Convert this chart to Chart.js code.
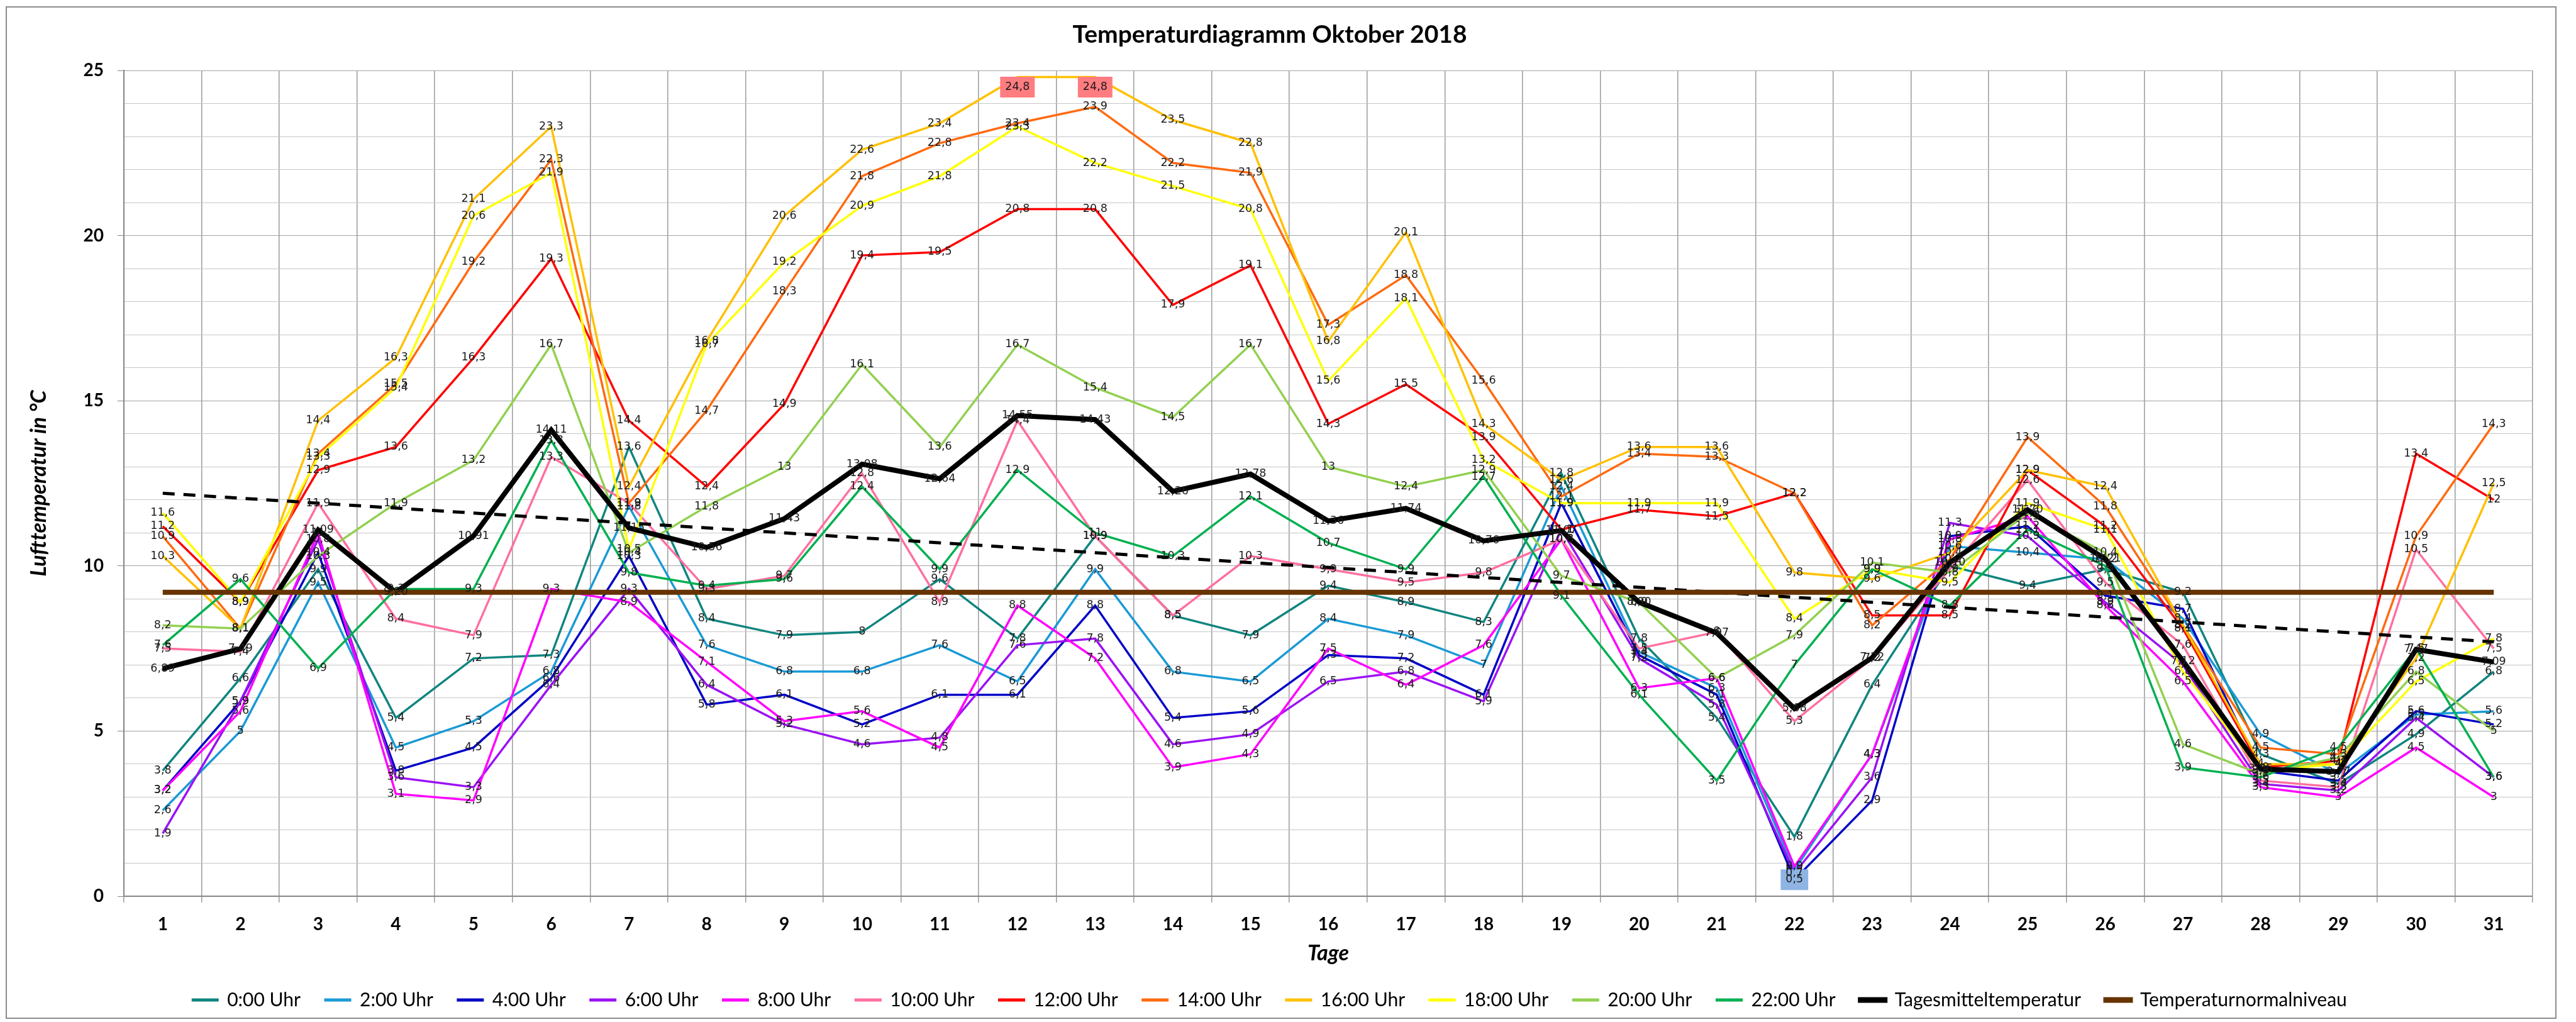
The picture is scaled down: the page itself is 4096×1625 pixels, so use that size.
<!DOCTYPE html>
<html>
<head>
<meta charset="utf-8">
<script src="https://cdn.jsdelivr.net/npm/chart.js@4.4.1/dist/chart.umd.min.js"></script>
<style>
  html, body { margin: 0; padding: 0; background: #fff; }
  #wrap { width: 4096px; height: 1625px; }
</style>
</head>
<body>
<div id="wrap"><canvas id="tempChart" width="4096" height="1625"></canvas></div>
<script>
// Tage im Oktober
const days = ['1','2','3','4','5','6','7','8','9','10','11','12','13','14','15','16',
              '17','18','19','20','21','22','23','24','25','26','27','28','29','30','31'];

// Messwerte (°C) je Uhrzeit
const temp00 = [3.8, 6.6, 9.9, 5.4, 7.2, 7.3, 13.6, 8.4, 7.9, 8.0, 9.6, 7.8, 10.9, 8.5, 7.9, 9.4, 8.9, 8.3, 12.8, 7.8, 5.4, 1.8, 6.4, 10.0, 9.4, 9.9, 9.2, 4.3, 3.4, 4.9, 6.8];
const temp02 = [2.6, 5.0, 9.5, 4.5, 5.3, 6.8, 11.8, 7.6, 6.8, 6.8, 7.6, 6.5, 9.9, 6.8, 6.5, 8.4, 7.9, 7.0, 12.4, 7.4, 6.3, 0.8, 4.3, 10.6, 10.4, 10.2, 8.4, 4.9, 3.7, 5.5, 5.6];
const temp04 = [3.2, 5.9, 10.4, 3.8, 4.5, 6.6, 10.3, 5.8, 6.1, 5.2, 6.1, 6.1, 8.8, 5.4, 5.6, 7.3, 7.2, 6.1, 11.9, 7.3, 6.1, 0.5, 2.9, 10.9, 11.2, 9.1, 8.7, 3.8, 3.5, 5.6, 5.2];
const temp06 = [1.9, 5.9, 10.8, 3.6, 3.3, 6.4, 9.3, 6.4, 5.2, 4.6, 4.8, 7.6, 7.8, 4.6, 4.9, 6.5, 6.8, 5.9, 11.1, 7.2, 5.8, 0.7, 3.6, 11.3, 10.9, 8.9, 7.0, 3.4, 3.2, 5.4, 3.6];
const temp08 = [3.2, 5.6, 11.0, 3.1, 2.9, 9.3, 8.9, 7.1, 5.3, 5.6, 4.5, 8.8, 7.2, 3.9, 4.3, 7.5, 6.4, 7.6, 10.8, 6.3, 6.6, 0.9, 4.3, 10.8, 11.5, 8.8, 6.5, 3.3, 3.0, 4.5, 3.0];
const temp10 = [7.5, 7.4, 11.9, 8.4, 7.9, 13.3, 11.9, 9.3, 9.7, 12.8, 8.9, 14.4, 10.9, 8.5, 10.3, 9.9, 9.5, 9.8, 10.8, 7.5, 8.0, 5.3, 7.2, 9.9, 12.6, 9.5, 7.6, 3.5, 3.3, 10.5, 7.5];
const temp12 = [11.2, 8.9, 12.9, 13.6, 16.3, 19.3, 14.4, 12.4, 14.9, 19.4, 19.5, 20.8, 20.8, 17.9, 19.1, 14.3, 15.5, 13.9, 11.1, 11.7, 11.5, 12.2, 8.5, 8.5, 12.9, 11.2, 8.1, 3.9, 4.1, 13.4, 12.0];
const temp14 = [10.9, 8.1, 13.4, 15.5, 19.2, 22.3, 11.9, 14.7, 18.3, 21.8, 22.8, 23.4, 23.9, 22.2, 21.9, 17.3, 18.8, 15.6, 12.1, 13.4, 13.3, 12.2, 8.2, 10.2, 13.9, 11.8, 8.2, 4.5, 4.3, 10.9, 14.3];
const temp16 = [10.3, 8.1, 14.4, 16.3, 21.1, 23.3, 12.4, 16.8, 20.6, 22.6, 23.4, 24.8, 24.8, 23.5, 22.8, 16.8, 20.1, 14.3, 12.6, 13.6, 13.6, 9.8, 9.6, 10.4, 12.9, 12.4, 8.2, 4.0, 4.0, 7.2, 12.5];
const temp18 = [11.6, 8.9, 13.3, 15.4, 20.6, 21.9, 10.5, 16.7, 19.2, 20.9, 21.8, 23.3, 22.2, 21.5, 20.8, 15.6, 18.1, 13.2, 11.9, 11.9, 11.9, 8.4, 9.9, 9.5, 11.9, 11.1, 6.8, 3.8, 4.0, 6.5, 7.8];
const temp20 = [8.2, 8.1, 10.3, 11.9, 13.2, 16.7, 10.4, 11.8, 13.0, 16.1, 13.6, 16.7, 15.4, 14.5, 16.7, 13.0, 12.4, 12.9, 9.7, 8.9, 6.6, 7.9, 10.1, 9.8, 11.6, 10.4, 4.6, 3.7, 4.2, 6.8, 5.0];
const temp22 = [7.6, 9.6, 6.9, 9.3, 9.3, 13.8, 9.8, 9.4, 9.6, 12.4, 9.9, 12.9, 11.0, 10.3, 12.1, 10.7, 9.9, 12.7, 9.1, 6.1, 3.5, 7.0, 9.9, 8.8, 11.1, 10.0, 3.9, 3.6, 4.5, 7.5, 3.6];

const dailyMean = [6.89, 7.49, 11.09, 9.20, 10.91, 14.11, 11.15, 10.56, 11.43, 13.08, 12.64, 14.55, 14.43, 12.26, 12.78, 11.36,
                   11.74, 10.76, 11.07, 8.90, 7.97, 5.68, 7.22, 10.10, 11.70, 10.21, 7.12, 3.85, 3.77, 7.47, 7.09];

const normalLevel = 9.2;
const trendStart = 12.2;
const trendEnd = 7.7;

const yTicks = [0, 5, 10, 15, 20, 25];

const hourNames = ['0:00 Uhr','2:00 Uhr','4:00 Uhr','6:00 Uhr','8:00 Uhr','10:00 Uhr',
                   '12:00 Uhr','14:00 Uhr','16:00 Uhr','18:00 Uhr','20:00 Uhr','22:00 Uhr'];
const hourSeries = [temp00, temp02, temp04, temp06, temp08, temp10, temp12, temp14, temp16, temp18, temp20, temp22];
const hourColors = ['#10857F','#1A9AD6','#0000C8','#9B12F4','#FF00FF','#FF6F9F',
                    '#FF0000','#FF6A10','#FFC000','#FFFF00','#92D050','#00B050'];

// Max/Min markiert wie im Original
const highlights = [
  {ds: 8, idx: 11, color: '#FF7C80'},
  {ds: 8, idx: 12, color: '#FF7C80'},
  {ds: 2, idx: 21, color: '#8EB4E3'}
];

const comma = v => String(v).replace('.', ',');
const comma2 = v => v.toFixed(2).replace('.', ',');

const datasets = hourSeries.map((s, i) => ({
  label: hourNames[i],
  data: s,
  borderColor: hourColors[i],
  backgroundColor: hourColors[i],
  borderWidth: 3.5,
  order: 100 - i,
  showValues: true,
  fmt: comma
}));

datasets.push({
  label: 'Tagesmitteltemperatur',
  data: dailyMean,
  borderColor: '#000',
  backgroundColor: '#000',
  borderWidth: 8,
  order: 3,
  showValues: true,
  fmt: comma2
});
datasets.push({
  label: 'Temperaturnormalniveau',
  data: [{x: days[0], y: normalLevel}, {x: days[days.length - 1], y: normalLevel}],
  borderColor: '#663300',
  backgroundColor: '#663300',
  borderWidth: 8,
  order: 1
});
datasets.push({
  label: 'trend',
  data: [{x: days[0], y: trendStart}, {x: days[days.length - 1], y: trendEnd}],
  borderColor: '#000',
  borderWidth: 5,
  borderDash: [19, 14],
  order: 5
});

const framePlugin = {
  id: 'frame',
  beforeDraw(chart) {
    const c = chart.ctx;
    c.save();
    c.fillStyle = '#fff';
    c.fillRect(0, 0, chart.width, chart.height);
    c.strokeStyle = '#8c8c8c';
    c.lineWidth = 2;
    c.strokeRect(10, 11, 4054, 1608);
    c.restore();
  }
};

const valueLabels = {
  id: 'valueLabels',
  afterDatasetsDraw(chart) {
    const c = chart.ctx;
    const area = chart.chartArea;
    c.save();
    c.font = '17.5px "DejaVu Sans"';
    c.textAlign = 'center';
    c.textBaseline = 'middle';
    chart.data.datasets.forEach((ds, di) => {
      if (!ds.showValues) return;
      const meta = chart.getDatasetMeta(di);
      meta.data.forEach((pt, i) => {
        const txt = ds.fmt(ds.data[i]);
        let y = pt.y;
        const hl = highlights.find(h => h.ds === di && h.idx === i);
        if (hl) {
          const w = c.measureText(txt).width + 16, h = 33;
          let top = y - h / 2;
          if (top < area.top + 10) top = area.top + 10;
          c.fillStyle = hl.color;
          c.fillRect(pt.x - w / 2, top, w, h);
          y = top + h / 2;
        }
        c.fillStyle = '#1a1a1a';
        c.fillText(txt, pt.x, y);
      });
    });
    c.restore();
  }
};

new Chart(document.getElementById('tempChart'), {
  type: 'line',
  data: { labels: days, datasets: datasets },
  options: {
    responsive: false,
    animation: false,
    layout: { padding: { left: 11, right: 69, top: 11, bottom: 10 } },
    elements: {
      point: { radius: 0, hoverRadius: 0 },
      line: { tension: 0, fill: false }
    },
    plugins: {
      tooltip: { enabled: false },
      title: {
        display: true,
        text: 'Temperaturdiagramm Oktober 2018',
        color: '#000',
        font: { family: 'Lato', size: 39, weight: 'bold' },
        padding: { top: 20.6, bottom: 33.6 }
      },
      legend: {
        position: 'bottom',
        labels: {
          color: '#000',
          font: { family: 'Lato', size: 30 },
          boxWidth: 40,
          boxHeight: 2,
          padding: 39,
          filter: item => item.text !== 'trend',
          sort: (a, b) => a.datasetIndex - b.datasetIndex,
          generateLabels(chart) {
            return chart.data.datasets.map((ds, i) => ({
              text: ds.label,
              fillStyle: ds.borderColor,
              strokeStyle: ds.borderColor,
              lineWidth: ds.borderWidth > 5 ? 7 : 3,
              hidden: false,
              datasetIndex: i
            }));
          }
        }
      }
    },
    scales: {
      x: {
        offset: true,
        grid: { offset: true, color: '#9a9a9a', lineWidth: 1.5, tickLength: 10 },
        border: { color: '#868686', width: 2 },
        ticks: {
          color: '#000',
          font: { family: 'Lato', size: 28, weight: 'bold' },
          padding: 18.2,
          autoSkip: false,
          maxRotation: 0
        },
        title: {
          display: true,
          text: 'Tage',
          color: '#000',
          font: { family: 'Lato', size: 34, weight: 'bold', style: 'italic' },
          padding: { top: -9.4, bottom: -0.4 }
        }
      },
      y: {
        min: 0,
        max: 25,
        afterBuildTicks(scale) {
          const t = [];
          for (let v = 0; v <= 25; v++) t.push({ value: v });
          scale.ticks = t;
        },
        grid: {
          color: c => (c.tick && yTicks.includes(c.tick.value)) ? '#a2a2a2' : '#c6c6c6',
          lineWidth: 1,
          tickLength: 10,
          tickColor: c => (c.tick && yTicks.includes(c.tick.value)) ? '#868686' : 'rgba(0,0,0,0)'
        },
        border: { color: '#868686', width: 2 },
        ticks: {
          color: '#000',
          font: { family: 'Lato', size: 28, weight: 'bold' },
          padding: 22,
          callback: v => yTicks.includes(v) ? String(v) : ''
        },
        title: {
          display: true,
          text: 'Lufttemperatur in °C',
          color: '#000',
          font: { family: 'Lato', size: 34, weight: 'bold', style: 'italic' },
          padding: { top: 30.6, bottom: 28.1 }
        }
      }
    }
  },
  plugins: [framePlugin, valueLabels]
});
</script>
</body>
</html>
